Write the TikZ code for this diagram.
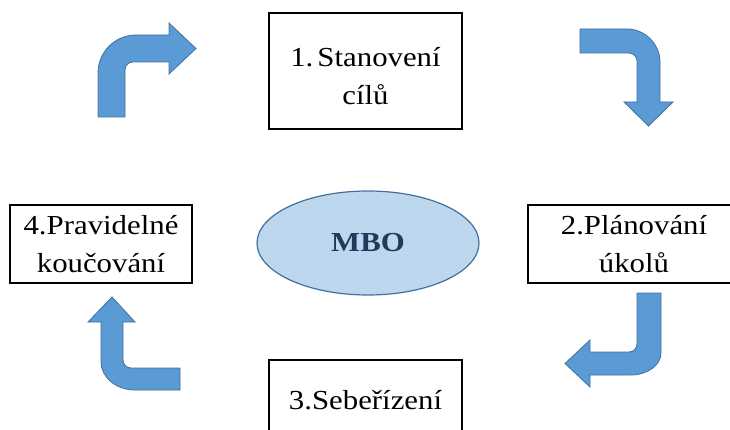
\documentclass[tikz,border=0pt]{standalone}
\usepackage{fontspec}
\setmainfont[FakeStretch=1.12]{Liberation Serif}
\usetikzlibrary{shapes.geometric}
\definecolor{arrowfill}{HTML}{5B9BD5}
\definecolor{arrowline}{HTML}{41719C}
\definecolor{ellfill}{HTML}{BDD7EE}
\definecolor{mbotext}{HTML}{1F3A5A}
\tikzset{
  stepbox/.style={draw=black, line width=1.4pt, fill=white, align=center, inner sep=0pt,
    font=\fontsize{27.5}{38}\selectfont},
  bentarrow/.style={fill=arrowfill, draw=arrowline, line width=0.8pt, line join=miter},
  mboell/.style={ellipse, draw=arrowline, line width=1.2pt, fill=ellfill, inner sep=0pt,
    minimum width=222pt, minimum height=104pt, text=mbotext,
    font=\fontsize{27.5}{32}\selectfont\bfseries}
}
\begin{document}
\begin{tikzpicture}[x=1pt,y=-1pt]
\useasboundingbox (0,0) rectangle (730,430);
\clip (0,0) rectangle (730,430);
% boxes
\node[stepbox, minimum width=193pt, minimum height=116pt] (s1) at (365.5,71) {\rule{0pt}{30pt}1.\hspace{0.15em}Stanovení\\cílů};
\node[stepbox, minimum width=212pt, minimum height=78pt] (s2) at (634,244) {2.Plánování\\úkolů};
\node[stepbox, minimum width=193pt, minimum height=80pt] (s3) at (365.5,400) {3.Sebeřízení};
\node[stepbox, minimum width=182pt, minimum height=78pt] (s4) at (101,244) {4.Pravidelné\\koučování};
% centre
\node[mboell] (mbo) at (368,243) {MBO};
% bent arrows
\filldraw[bentarrow] (98,117) -- (98,73) .. controls (98,52) and (115,35) .. (136,35) -- (169,35) -- (169,23) -- (196,48.5) -- (169,74) -- (169,62) -- (133,62) .. controls (128.6,62) and (125,65.6) .. (125,70) -- (125,117) -- cycle;
\filldraw[bentarrow] (580,29) -- (627,29) .. controls (645,29) and (660,44) .. (660,62) -- (660,102) -- (673,102) -- (648.5,126) -- (624,102) -- (637,102) -- (637,61) .. controls (637,56.6) and (633.4,53) .. (629,53) -- (580,53) -- cycle;
\filldraw[bentarrow] (637,293) -- (661,293) -- (661,353) .. controls (661,365) and (647.5,375) .. (631,375) -- (590,375) -- (590,387) -- (565,363.5) -- (590,340) -- (590,352) -- (629,352) .. controls (633.4,352) and (637,348.4) .. (637,344) -- cycle;
\filldraw[bentarrow] (180,368) -- (131,368) .. controls (126.6,368) and (123,364.4) .. (123,360) -- (123,322) -- (135,322) -- (112,297) -- (88,322) -- (101,322) -- (101,362) .. controls (101,377.4) and (116.3,390) .. (135,390) -- (180,390) -- cycle;
\end{tikzpicture}
\end{document}
